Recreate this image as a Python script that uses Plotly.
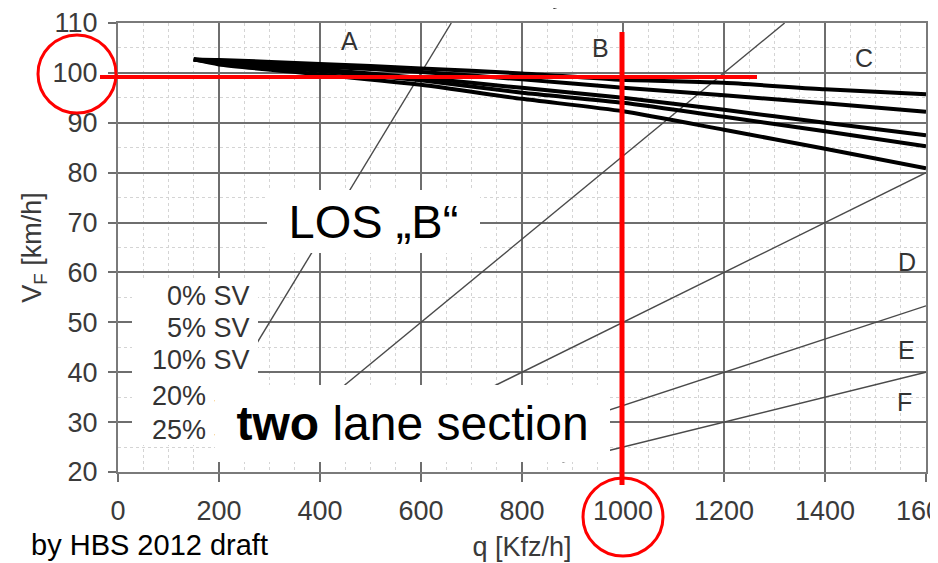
import plotly.graph_objects as go

# ---------------- data ----------------
q_curve = [150, 200, 400, 600, 800, 1000, 1200, 1400, 1600]
sv_0 = [102.7, 102.6, 101.8, 100.9, 99.9, 98.6, 98.0, 96.7, 95.7]
sv_5 = [102.7, 102.4, 101.3, 100.2, 98.7, 97.0, 95.5, 93.9, 92.2]
sv_10 = [102.7, 102.2, 100.7, 99.0, 97.0, 95.0, 92.6, 90.0, 87.5]
sv_20 = [102.7, 102.0, 100.4, 98.5, 96.0, 94.0, 91.2, 88.3, 85.3]
sv_25 = [102.7, 101.7, 99.7, 97.6, 94.8, 92.3, 88.6, 84.8, 80.9]
curves = [sv_0, sv_5, sv_10, sv_20, sv_25]
sv_labels = ["0% SV", "5% SV", "10% SV", "20% SV", "25% SV"]
sv_label_v = [55.3, 48.9, 42.4, 35.2, 28.4]

# LOS boundary lines (q, v endpoints)
los_ab_q = [270, 660]
los_ab_v = [45, 110]
los_bc_q = [300, 1320]
los_bc_v = [25, 110]
los_cd_q = [500, 1600]
los_cd_v = [25, 80]
los_de_q = [750, 1600]
los_de_v = [25, 53.3]
los_ef_q = [880, 1600]
los_ef_v = [22, 40]
los_lines = [(los_ab_q, los_ab_v), (los_bc_q, los_bc_v), (los_cd_q, los_cd_v),
             (los_de_q, los_de_v), (los_ef_q, los_ef_v)]

los_letters = ["A", "B", "C", "D", "E", "F"]
los_letter_q = [459, 956, 1477, 1562, 1562, 1558]
los_letter_v = [106.4, 105.0, 103.0, 62.1, 44.5, 34.1]

x_ticks = [0, 200, 400, 600, 800, 1000, 1200, 1400, 1600]
y_ticks = [20, 30, 40, 50, 60, 70, 80, 90, 100, 110]

FONT = "Liberation Sans, Arial, Helvetica, sans-serif"

fig = go.Figure()

for lq, lv in los_lines:
    fig.add_trace(go.Scatter(x=lq, y=lv, mode="lines",
                             line=dict(color="#4a4a4a", width=1.4),
                             showlegend=False, hoverinfo="skip"))

for name, vals in zip(sv_labels, curves):
    fig.add_trace(go.Scatter(x=q_curve, y=vals, mode="lines", name=name,
                             line=dict(color="black", width=4, shape="spline", smoothing=0.6),
                             showlegend=False))

# ---------------- annotations ----------------
ann = []
for t, qq, vv in zip(los_letters, los_letter_q, los_letter_v):
    ann.append(dict(x=qq, y=vv, xref="x", yref="y", text=t, showarrow=False,
                    font=dict(family=FONT, size=25, color="#333333"),
                    xanchor="center", yanchor="middle"))
for t, vv in zip(sv_labels, sv_label_v):
    ann.append(dict(x=261, y=vv, xref="x", yref="y", text=t, showarrow=False,
                    font=dict(family=FONT, size=27, color="#333333"),
                    xanchor="right", yanchor="middle", borderpad=0, borderwidth=0))
ann.append(dict(x=506, y=70.2, xref="x", yref="y", text="LOS \u201eB\u201c", showarrow=False,
                font=dict(family=FONT, size=47, color="black"),
                bgcolor="white", width=213, height=63, borderpad=0, borderwidth=0,
                xanchor="center", yanchor="middle", align="center", valign="middle"))
ann.append(dict(x=583, y=29.7, xref="x", yref="y", text="<b>two</b> lane section", showarrow=False,
                font=dict(family=FONT, size=48, color="black"),
                bgcolor="white", width=395, height=77, borderpad=0, borderwidth=0,
                xanchor="center", yanchor="middle", align="center", valign="middle"))
ann.append(dict(x=-0.110, y=-0.1626, xref="paper", yref="paper", text="by HBS 2012 draft",
                showarrow=False, font=dict(family=FONT, size=29, color="black"),
                xanchor="left", yanchor="middle"))

# ---------------- shapes (positions given in displayed page pixels) ----------------
def px(x):
    return (x - 118) / 808.0

def py(y):
    return (472 - y) / 449.0

shapes = [
    dict(type="rect", xref="paper", yref="paper", x0=px(132), x1=px(258), y0=py(445), y1=py(278),
         fillcolor="white", line=dict(width=0), layer="above"),
    dict(type="line", xref="paper", yref="paper", x0=px(100), x1=px(757), y0=py(77), y1=py(77),
         line=dict(color="#ff0000", width=4), layer="above"),
    dict(type="line", xref="paper", yref="paper", x0=px(622), x1=px(622), y0=py(32), y1=py(485),
         line=dict(color="#ff0000", width=5), layer="above"),
    dict(type="circle", xref="paper", yref="paper", x0=px(38), x1=px(116), y0=py(113), y1=py(35),
         line=dict(color="#ff0000", width=3), layer="above"),
    dict(type="circle", xref="paper", yref="paper", x0=px(583), x1=px(663), y0=py(556), y1=py(478),
         line=dict(color="#ff0000", width=3), layer="above"),
    dict(type="path", xref="paper", yref="paper",
         path="M %f %f L %f %f L %f %f L %f %f L %f %f Z" % (
             px(560), py(-3), px(579), py(-3), px(577), py(4), px(570), py(5), px(553), py(9)),
         fillcolor="black", line=dict(width=0), layer="above"),
]

axis_common = dict(
    showgrid=True, gridcolor="#6e6e6e", gridwidth=1.5,
    showline=True, mirror=True, linecolor="#7a7a7a", linewidth=2,
    ticks="outside", ticklen=8, tickwidth=1.5, tickcolor="#6e6e6e",
    zeroline=False, automargin=False, ticklabeloverflow="allow",
    tickfont=dict(family=FONT, size=27, color="#3a3a3a"),
)

# the page body adds an 8px offset, so the figure is laid out 8px up/left
fig.update_layout(
    width=938, height=563,
    margin=dict(l=110, r=20, t=15, b=99, autoexpand=False),
    paper_bgcolor="white", plot_bgcolor="white",
    xaxis=dict(range=[0, 1600], tickvals=x_ticks, ticklabelstandoff=6,
               minor=dict(dtick=50, tick0=0, showgrid=True, gridcolor="#d4d4d4", griddash="dot", gridwidth=1),
               title=dict(text="q [Kfz/h]", standoff=12,
                          font=dict(family=FONT, size=27, color="#3a3a3a")),
               **axis_common),
    yaxis=dict(range=[20, 110], tickvals=y_ticks, ticklabelstandoff=5,
               minor=dict(dtick=5, tick0=0, showgrid=True, gridcolor="#d4d4d4", griddash="dot", gridwidth=1),
               title=dict(text="V<sub>F</sub> [km/h]", standoff=3,
                          font=dict(family=FONT, size=27, color="#3a3a3a")),
               **axis_common),
    annotations=ann,
    shapes=shapes,
    showlegend=False,
)

fig.write_html("out.html")
